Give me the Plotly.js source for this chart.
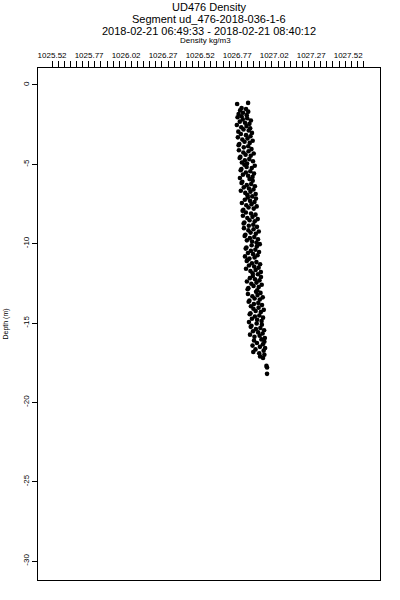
<!DOCTYPE html>
<html>
<head>
<meta charset="utf-8">
<script src="https://cdn.plot.ly/plotly-3.0.1.min.js"></script>
<style>html,body{margin:0;padding:0;background:#fff;}#chart{width:400px;height:600px;}</style>
</head>
<body>
<div id="chart"></div>
<script>
// Depth (m) of each sample
var depth = [
-1.13,-1.20,-1.45,-1.52,-1.60,-1.68,-1.75,-1.83,-1.90,-1.97,
-2.03,-2.10,-2.17,-2.24,-2.31,-2.38,-2.45,-2.52,-2.59,-2.66,-2.73,-2.80,-2.87,-2.94,
-3.02,-3.09,-3.16,-3.23,-3.30,-3.37,-3.44,-3.51,-3.58,-3.65,-3.72,-3.79,-3.86,-3.93,
-4.04,-4.11,-4.18,-4.25,-4.32,-4.39,-4.46,-4.53,-4.60,-4.67,-4.74,-4.81,-4.88,-4.95,
-5.02,-5.09,-5.16,-5.23,-5.30,-5.37,-5.44,-5.51,-5.58,-5.65,-5.72,-5.79,-5.86,-5.93,
-6.03,-6.10,-6.17,-6.24,-6.31,-6.38,-6.45,-6.52,-6.59,-6.66,-6.73,-6.80,-6.87,-6.94,
-7.02,-7.09,-7.16,-7.23,-7.30,-7.37,-7.44,-7.51,-7.58,-7.65,-7.72,-7.79,-7.86,-7.93,
-8.03,-8.10,-8.17,-8.24,-8.31,-8.38,-8.45,-8.52,-8.59,-8.66,-8.73,-8.80,-8.87,-8.94,
-9.02,-9.09,-9.16,-9.23,-9.30,-9.37,-9.44,-9.51,-9.58,-9.65,-9.72,-9.79,-9.86,-9.93,
-10.03,-10.10,-10.17,-10.24,-10.31,-10.38,-10.45,-10.52,-10.59,-10.66,-10.73,-10.80,-10.87,-10.94,
-11.02,-11.09,-11.16,-11.23,-11.30,-11.37,-11.44,-11.51,-11.58,-11.65,-11.72,-11.79,-11.86,-11.93,
-12.03,-12.10,-12.17,-12.24,-12.31,-12.38,-12.45,-12.52,-12.59,-12.66,-12.73,-12.80,-12.87,-12.94,
-13.03,-13.10,-13.17,-13.24,-13.31,-13.38,-13.45,-13.52,-13.59,-13.66,-13.73,-13.80,-13.87,-13.94,
-14.03,-14.10,-14.17,-14.24,-14.31,-14.38,-14.45,-14.52,-14.59,-14.66,-14.73,-14.80,-14.87,-14.94,
-15.03,-15.10,-15.17,-15.24,-15.31,-15.38,-15.45,-15.52,-15.59,-15.66,-15.73,-15.80,-15.87,-15.94,
-16.03,-16.10,-16.18,-16.26,-16.34,-16.42,-16.50,-16.58,-16.66,-16.74,-16.82,-16.90,-17.00,-17.10,-17.20,
-17.70,-17.80,-18.20
];
// Density (kg/m3) of each sample
var density = [
1026.844,1026.770,1026.800,1026.830,1026.790,1026.845,1026.810,1026.780,1026.835,1026.800,
1026.773,1026.838,1026.808,1026.863,1026.788,1026.823,1026.853,1026.768,1026.833,1026.798,1026.858,1026.813,1026.848,1026.778,
1026.870,1026.795,1026.830,1026.860,1026.775,1026.840,1026.805,1026.875,1026.820,1026.855,1026.785,1026.780,1026.845,1026.815,
1026.867,1026.782,1026.847,1026.812,1026.882,1026.827,1026.862,1026.792,1026.787,1026.852,1026.822,1026.877,1026.802,1026.837,
1026.819,1026.889,1026.834,1026.869,1026.799,1026.794,1026.859,1026.829,1026.884,1026.809,1026.844,1026.874,1026.789,1026.854,
1026.875,1026.805,1026.800,1026.865,1026.835,1026.890,1026.815,1026.850,1026.880,1026.795,1026.860,1026.825,1026.895,1026.840,
1026.872,1026.842,1026.897,1026.822,1026.857,1026.887,1026.802,1026.867,1026.832,1026.902,1026.847,1026.882,1026.812,1026.807,
1026.829,1026.864,1026.894,1026.809,1026.874,1026.839,1026.909,1026.854,1026.889,1026.819,1026.814,1026.879,1026.849,1026.904,
1026.816,1026.881,1026.846,1026.916,1026.861,1026.896,1026.826,1026.821,1026.886,1026.856,1026.911,1026.836,1026.871,1026.901,
1026.923,1026.868,1026.903,1026.833,1026.828,1026.893,1026.863,1026.918,1026.843,1026.878,1026.908,1026.823,1026.888,1026.853,
1026.840,1026.835,1026.900,1026.870,1026.925,1026.850,1026.885,1026.915,1026.830,1026.895,1026.860,1026.930,1026.875,1026.910,
1026.876,1026.931,1026.856,1026.891,1026.921,1026.836,1026.901,1026.866,1026.936,1026.881,1026.916,1026.846,1026.841,1026.906,
1026.898,1026.928,1026.843,1026.908,1026.873,1026.943,1026.888,1026.923,1026.853,1026.848,1026.913,1026.883,1026.938,1026.863,
1026.915,1026.880,1026.950,1026.895,1026.930,1026.860,1026.855,1026.920,1026.890,1026.945,1026.870,1026.905,1026.935,1026.850,
1026.902,1026.937,1026.867,1026.862,1026.927,1026.897,1026.952,1026.877,1026.912,1026.942,1026.857,1026.922,1026.887,1026.957,
1026.934,1026.884,1026.954,1026.904,1026.944,1026.874,1026.924,1026.959,1026.894,1026.949,1026.879,1026.919,1026.954,1026.925,1026.945,
1026.968,1026.972,1026.972
];
// Axis tick labels
var xTickLabels = ['1025.52','1025.77','1026.02','1026.27','1026.52','1026.77','1027.02','1027.27','1027.52'];
var yTickValues = [0,-5,-10,-15,-20,-25,-30];
var yTickLabels = ['0','-5','-10','-15','-20','-25','-30'];
var titleLines = ['UD476 Density','Segment ud_476-2018-036-1-6','2018-02-21 06:49:33 - 2018-02-21 08:40:12'];
var xTitle = 'Density kg/m3';

var xTickVals = xTickLabels.map(Number);
var minorTicks = [];
for (var i = 0; i < 52; i++) minorTicks.push(1025.52 + i * 0.04125);

var FONT = 'Liberation Sans, Arial, Helvetica, sans-serif';

var trace = {
  x: density, y: depth, type: 'scatter', mode: 'markers',
  marker: {color: '#000', size: 4.6, line: {width: 0}},
  hoverinfo: 'skip', showlegend: false
};

function pyPaper(px) { return 1 + (68 - px) / 512; }

var annotations = [];
var titleY = [7, 19, 31];
titleLines.forEach(function (t, k) {
  annotations.push({text: t, xref: 'paper', yref: 'paper', x: 0.5, y: pyPaper(titleY[k]),
    xanchor: 'center', yanchor: 'middle', showarrow: false,
    font: {family: FONT, size: 11, color: '#000'}});
});
annotations.push({text: xTitle, xref: 'paper', yref: 'paper', x: 0.49, y: pyPaper(40),
  xanchor: 'center', yanchor: 'middle', showarrow: false,
  font: {family: FONT, size: 8, color: '#000'}});

var layout = {
  width: 400, height: 600,
  margin: {l: 38, r: 20, t: 68, b: 20, pad: 0},
  paper_bgcolor: '#fff', plot_bgcolor: '#fff',
  font: {family: FONT, size: 8, color: '#000'},
  showlegend: false,
  xaxis: {
    side: 'top', range: [1025.425, 1027.735],
    tickmode: 'array', tickvals: xTickVals, ticktext: xTickLabels,
    ticks: '', ticklabelstandoff: 6,
    minor: {tickmode: 'array', tickvals: minorTicks, ticks: 'outside', ticklen: 6, tickcolor: '#000', tickwidth: 1, showgrid: false},
    showgrid: false, zeroline: false,
    showline: true, mirror: true, linecolor: '#000', linewidth: 1,
    tickfont: {family: FONT, size: 8, color: '#000'}
  },
  yaxis: {
    range: [-31.19, 1.07],
    tickmode: 'array', tickvals: yTickValues, ticktext: yTickLabels,
    ticks: 'outside', ticklen: 5, tickcolor: '#000', tickwidth: 1,
    tickangle: -90,
    showgrid: false, zeroline: false,
    showline: true, mirror: true, linecolor: '#000', linewidth: 1,
    tickfont: {family: FONT, size: 8, color: '#000'},
    title: {text: 'Depth (m)', font: {family: FONT, size: 7, color: '#000'}, standoff: 12}
  },
  annotations: annotations
};

Plotly.newPlot('chart', [trace], layout, {displayModeBar: false, staticPlot: true});
</script>
</body>
</html>
